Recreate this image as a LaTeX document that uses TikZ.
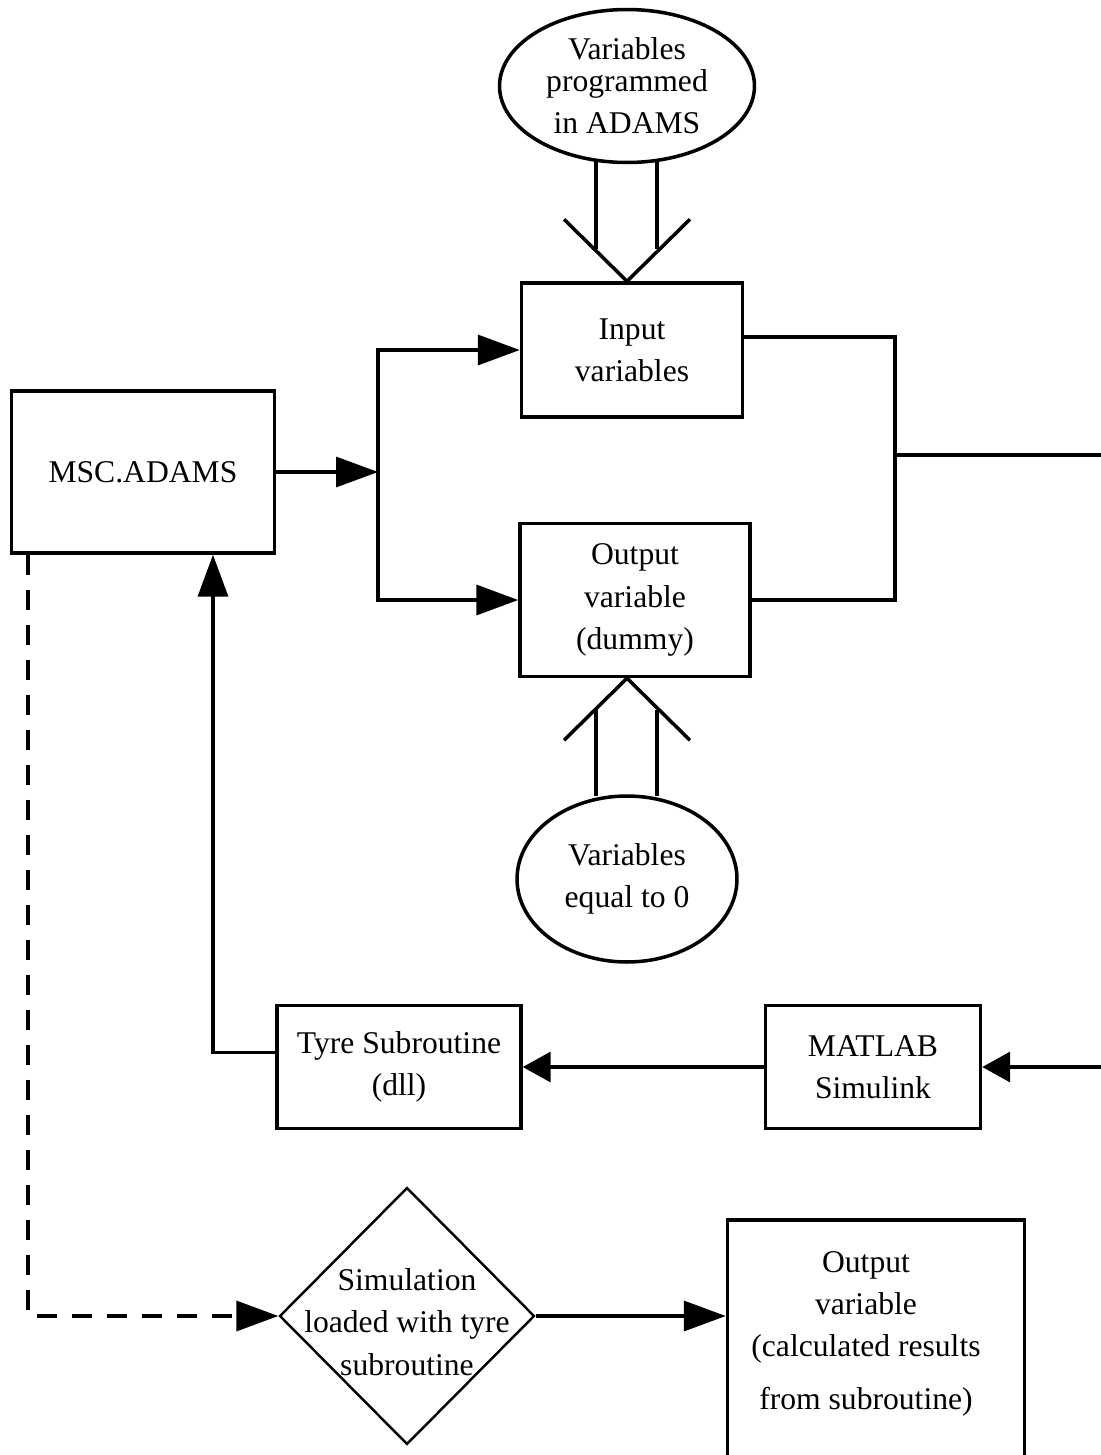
\documentclass[tikz,border=0pt]{standalone}
\usepackage{fontspec}
\setmainfont{Liberation Serif}
\usetikzlibrary{shapes.geometric, arrows.meta, positioning, calc}
\newcommand{\flowfont}{\fontsize{18}{24}\selectfont}
\tikzset{
    box/.style={
        rectangle, draw, line width=2pt, inner sep=0pt,
        align=center, font=\flowfont
    },
    oval/.style={ellipse, draw, line width=2pt, inner sep=0pt, align=center, font=\flowfont},
    decision/.style={diamond, draw, line width=1.4pt, inner sep=0pt},
    txt/.style={inner sep=0pt, align=center, font=\flowfont},
    link/.style={line width=2pt},
    arrow/.style={-{Triangle[length=0.84cm, width=0.6cm]}, line width=2pt},
    smallarrow/.style={-{Triangle[length=0.56cm, width=0.6cm]}, line width=2pt},
    dasharrow/.style={arrow, dash pattern=on 0.4cm off 0.3cm},
}

\begin{document}
\begin{tikzpicture}[x=0.02cm, y=-0.02cm]
    \useasboundingbox (0,0) rectangle (1101,1455);

    \node[oval, minimum width=5.1cm, minimum height=3.06cm] (vprog) at (627,86) {Variables\\[-6pt]programmed\\in ADAMS};
    \node[box, minimum width=4.42cm, minimum height=2.68cm] (input) at (632,350) {Input\\variables};
    \node[box, minimum width=4.6cm, minimum height=3.06cm] (dummy) at (635,600) {Output\\variable\\(dummy)};
    \node[oval, minimum width=4.4cm, minimum height=3.32cm] (vzero) at (627,879) {Variables\\equal to 0};

    \node[box, minimum width=5.26cm, minimum height=3.24cm] (msc) at (143,472) {MSC.ADAMS};
    \node[box, minimum width=4.3cm, minimum height=2.46cm] (matlab) at (873,1067) {MATLAB\\Simulink};
    \node[box, minimum width=4.88cm, minimum height=2.46cm] (tyre) at (399,1067) {Tyre Subroutine\\(dll)};

    \node[decision, minimum width=5.1cm, minimum height=5.14cm] (sim) at (407,1316) {};
    \node[txt] (simtxt) at (407,1322) {Simulation\\loaded with tyre\\subroutine};
    \node[box, minimum width=5.94cm, minimum height=5cm] (result) at (876,1345) {};
    \node[txt] (resulttxt) at (866,1334) {Output\\variable\\(calculated results\\[6pt]from subroutine)};

    \coordinate (split) at (378,472);
    \coordinate (join) at (895,455);
    \coordinate (edgeA) at (1110,455);
    \coordinate (edgeB) at (1110,1067);
    \coordinate (tipA) at (vprog.south |- input.north);
    \coordinate (tipB) at (vzero.north |- dummy.south);

    \draw[link] ([xshift=-0.62cm,yshift=0.04cm]vprog.south) -- ++(0,87);
    \draw[link] ([xshift=0.6cm,yshift=0.04cm]vprog.south) -- ++(0,87);
    \draw[link] ([shift={(-63,-62)}]tipA) -- (tipA) -- ([shift={(63,-62)}]tipA);

    \draw[link] ([xshift=-0.62cm,yshift=-0.04cm]vzero.north) -- ++(0,-86);
    \draw[link] ([xshift=0.6cm,yshift=-0.04cm]vzero.north) -- ++(0,-86);
    \draw[link] ([shift={(-63,62)}]tipB) -- (tipB) -- ([shift={(63,62)}]tipB);

    \draw[arrow] (msc) -- (split);
    \draw[arrow] (split) |- (input.west);
    \draw[arrow] (split) |- (dummy.west);
    \draw[link] ([yshift=0.26cm]input.east) -| (join) |- (dummy.east);
    \draw[link] (join) -- (edgeA);

    \draw[smallarrow] (edgeB) -- (matlab.east |- edgeB);
    \draw[smallarrow] (matlab.west) -- (tyre.east);
    \draw[arrow] ([yshift=0.29cm]tyre.west) -| ([xshift=1.4cm]msc.south);

    \draw[dasharrow] ([xshift=-2.3cm]msc.south) |- (sim.west);
    \draw[arrow] (sim.east) -- (sim.east -| result.west);
\end{tikzpicture}
\end{document}
